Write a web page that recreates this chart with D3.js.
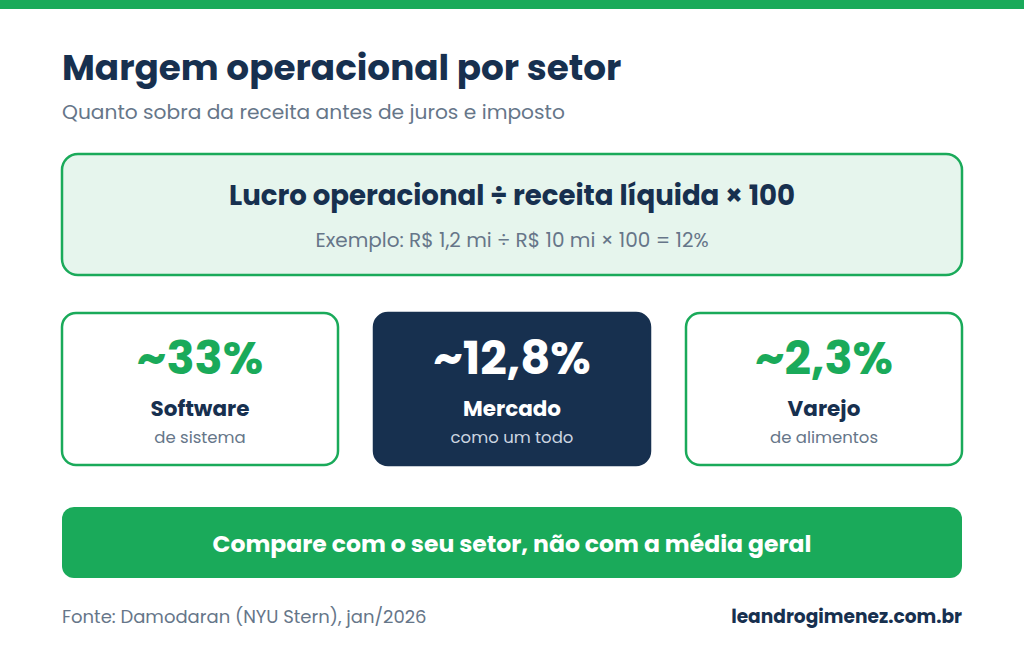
<!DOCTYPE html>
<head>
  <meta charset="utf-8">
  <style>
    body { margin: 0; background: #fff; }
    svg text { font-family: Poppins, Inter, "Noto Sans", sans-serif; }
  </style>
</head>
<body>
  <svg width="1024" height="655"></svg>
  <script src="https://d3js.org/d3.v7.min.js"></script>
  <script>

  // chart data
  var title = "Margem operacional por setor",
      subtitle = "Quanto sobra da receita antes de juros e imposto",
      formula = "Lucro operacional ÷ receita líquida × 100",
      example = "Exemplo: R$ 1,2 mi ÷ R$ 10 mi × 100 = 12%";

  var sectors = ["Software", "Mercado", "Varejo"];
  var details = ["de sistema", "como um todo", "de alimentos"];
  var margins = [33, 12.8, 2.3];
  var highlight = ["Mercado"];

  var banner = "Compare com o seu setor, não com a média geral",
      source = "Fonte: Damodaran (NYU Stern), jan/2026",
      site = "leandrogimenez.com.br";

  var green = "#1aaa5a", navy = "#17304f", gray = "#667689", pale = "#e6f5ed";

  var svg = d3.select("svg"),
      width = +svg.attr("width"),
      left = 62, right = 962;

  var fmt = d3.formatLocale({ decimal: ",", thousands: ".", grouping: [3], currency: ["R$ ", ""] });
  var pct = function(v) { return "~" + (Number.isInteger(v) ? fmt.format("d")(v) : fmt.format(".1f")(v)) + "%"; };

  // top stripe
  svg.append("rect").attr("x", 0).attr("y", 0).attr("width", width).attr("height", 9).attr("fill", green);

  svg.append("text").attr("x", left).attr("y", 80)
      .attr("font-size", 35.8).attr("font-weight", 700).attr("fill", navy).text(title);
  svg.append("text").attr("x", left).attr("y", 119)
      .attr("font-size", 20.2).attr("fill", gray).text(subtitle);

  // formula box
  svg.append("rect").attr("x", left).attr("y", 154).attr("width", right - left).attr("height", 121)
      .attr("rx", 16).attr("fill", pale).attr("stroke", green).attr("stroke-width", 2.5);
  svg.append("text").attr("x", width / 2).attr("y", 205).attr("text-anchor", "middle")
      .attr("font-size", 27.6).attr("font-weight", 700).attr("fill", navy).text(formula);
  svg.append("text").attr("x", width / 2).attr("y", 247).attr("text-anchor", "middle")
      .attr("font-size", 20).attr("fill", gray).text(example);

  // sector cards
  var x = d3.scaleBand().domain(sectors).range([left, right]).paddingInner(36 / 312);

  var card = svg.selectAll(".card")
    .data(sectors.map(function(s, i) { return { name: s, detail: details[i], value: margins[i] }; }))
    .enter().append("g")
      .attr("class", "card")
      .attr("transform", function(d) { return "translate(" + x(d.name) + ",313)"; });

  var isHi = function(d) { return highlight.indexOf(d.name) >= 0; };

  card.append("rect")
      .attr("width", x.bandwidth()).attr("height", 152).attr("rx", 14)
      .attr("fill", function(d) { return isHi(d) ? navy : "#fff"; })
      .attr("stroke", function(d) { return isHi(d) ? navy : green; })
      .attr("stroke-width", 2.5);

  card.append("text").attr("x", x.bandwidth() / 2).attr("y", 61).attr("text-anchor", "middle")
      .attr("font-size", 46.5).attr("font-weight", 700)
      .attr("fill", function(d) { return isHi(d) ? "#fff" : green; })
      .text(function(d) { return pct(d.value); });

  card.append("text").attr("x", x.bandwidth() / 2).attr("y", 103).attr("text-anchor", "middle")
      .attr("font-size", 21.5).attr("font-weight", 700)
      .attr("fill", function(d) { return isHi(d) ? "#fff" : navy; })
      .text(function(d) { return d.name; });

  card.append("text").attr("x", x.bandwidth() / 2).attr("y", 130).attr("text-anchor", "middle")
      .attr("font-size", 16.5)
      .attr("fill", function(d) { return isHi(d) ? "#ccd5e0" : gray; })
      .text(function(d) { return d.detail; });

  // banner
  svg.append("rect").attr("x", left).attr("y", 507).attr("width", right - left).attr("height", 71)
      .attr("rx", 12).attr("fill", green);
  svg.append("text").attr("x", width / 2).attr("y", 552).attr("text-anchor", "middle")
      .attr("font-size", 23.5).attr("font-weight", 700).attr("fill", "#fff").text(banner);

  // footer
  svg.append("text").attr("x", left).attr("y", 623)
      .attr("font-size", 18).attr("fill", gray).text(source);
  svg.append("text").attr("x", right).attr("y", 623).attr("text-anchor", "end")
      .attr("font-size", 18.6).attr("font-weight", 700).attr("fill", navy).text(site);

  </script>
</body>
</html>
